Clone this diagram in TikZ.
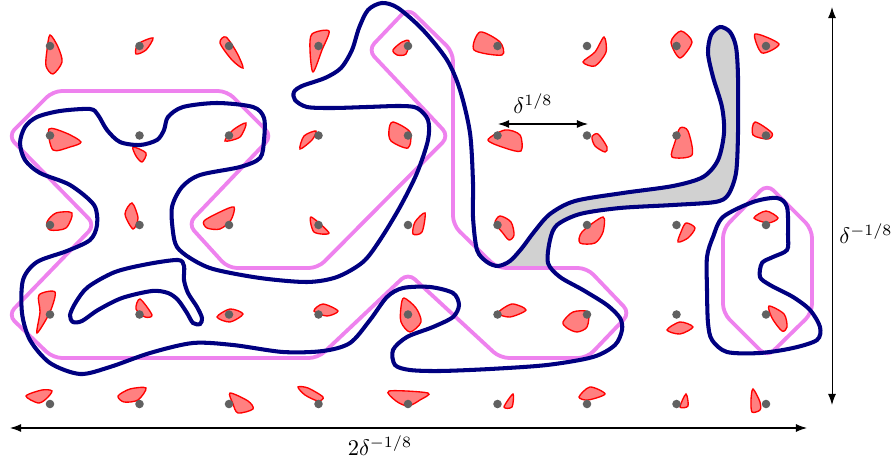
\documentclass[tikz,border=0pt]{standalone}
\usetikzlibrary{arrows.meta}
\definecolor{loopnavy}{RGB}{0,0,128}
\definecolor{hullpink}{RGB}{238,130,238}
\definecolor{blobred}{RGB}{255,128,128}
\def\bigloop{plot[smooth cycle] coordinates {(20,143) (25,127) (37,117) (60,111) (90,109) (98,115)
  (107,130) (120,142) (140,145) (157,140) (164,130) (168,117) (183,107) (217,103) (253,107)
  (264,118) (264,140) (260,158) (240,167) (200,175) (182,187) (172,207) (173,232) (177,247)
  (190,258) (213,269) (260,278) (307,282) (337,277) (363,262) (380,240) (400,207) (417,173)
  (428,140) (428,120) (417,108) (400,106) (367,107) (333,108) (307,107) (295,100) (294,92)
  (302,86) (325,78) (341,68) (352,50) (359,28) (368,10) (382,3) (398,8) (423,30) (447,60) (460,90)
  (470,133) (473,183) (473,217) (477,250) (487,262) (498,266) (510,261) (522,248) (534,232)
  (550,214) (575,201) (623,193) (673,186) (703,177) (718,160) (724,133) (722,107) (713,77)
  (708,53) (711,35) (720,27) (730,32) (736,47) (738,77) (738,133) (736,173) (728,195)
  (715,202) (673,205) (620,208) (580,214) (557,225) (550,240) (548,263) (560,277) (583,290)
  (607,305) (620,318) (622,330) (615,345) (593,357) (547,365) (490,369) (440,371) (410,370)
  (395,365) (393,350) (407,337) (433,327) (453,317) (459,305) (453,293) (430,287) (403,288)
  (387,297) (370,320) (350,343) (323,351) (283,352) (233,345) (193,343) (150,353) (110,367)
  (80,374) (50,363) (30,340) (22,313) (23,280) (37,262) (67,251) (90,240) (97,225) (94,205)
  (70,185) (40,173) (25,160)}}
\begin{document}
\begin{tikzpicture}[x=0.01564cm,y=-0.01564cm,font=\normalsize,
  blob/.style={draw=red,fill=blobred,line width=0.6pt},
  hull/.style={draw=hullpink,line width=1.7pt,rounded corners=4pt},
  loop/.style={draw=loopnavy,line width=1.8pt},
  gap/.style={fill=black!18},
  span/.style={black,line width=0.45pt,{Latex[length=5pt,width=3.6pt]}-{Latex[length=5pt,width=3.6pt]}}]
  \useasboundingbox (0,0) rectangle (891,461);
  % shaded strip of the finger
  \begin{scope}
    \clip (498,0) rectangle (760,268);
    \fill[gap] \bigloop;
  \end{scope}
  % pink hulls
  \draw[hull] (53,91) -- (227,91) -- (272,136) -- (188,224) -- (228,268) -- (318,268) -- (449,136)
    -- (368,50) -- (408,8) -- (453,52) -- (453,225) -- (497,268) -- (587,268) -- (630,313)
    -- (587,358) -- (500,358) -- (408,273) -- (318,358) -- (53,358) -- (8,315) -- (95,225)
    -- (8,136) -- cycle;
  \draw[hull] (767,184) -- (812,229) -- (812,313) -- (767,357) -- (723,313) -- (723,229) -- cycle;
  % red blobs, top row first
  \filldraw[blob] plot[smooth cycle] coordinates {(50,35) (58,47) (62,62) (53,74) (46,66) (47,50)};
  \filldraw[blob] plot[smooth cycle] coordinates {(136,54) (138,44) (153,38) (146,50)};
  \filldraw[blob] plot[smooth cycle] coordinates {(220,43) (226,37) (237,53) (243,68) (232,60)};
  \filldraw[blob] plot[smooth cycle] coordinates {(312,34) (329,31) (322,50) (313,72) (310,50)};
  \filldraw[blob] plot[smooth cycle] coordinates {(393,50) (402,42) (409,41) (406,54) (397,55)};
  \filldraw[blob] plot[smooth cycle] coordinates {(474,50) (480,32) (500,42) (502,55)};
  \filldraw[blob] plot[smooth cycle] coordinates {(604,37) (606,52) (595,66) (583,62) (595,52)};
  \filldraw[blob] plot[smooth cycle] coordinates {(671,42) (681,31) (692,42) (680,58)};
  \filldraw[blob] plot[smooth cycle] coordinates {(755,34) (779,44) (762,53)};
  \filldraw[blob] plot[smooth cycle] coordinates {(49,129) (66,133) (81,142) (70,147) (53,150)};
  \filldraw[blob] plot[smooth cycle] coordinates {(133,147) (146,153) (142,162) (136,156)};
  \filldraw[blob] plot[smooth cycle] coordinates {(225,141) (233,130) (246,123) (240,137)};
  \filldraw[blob] plot[smooth cycle] coordinates {(300,149) (304,136) (316,131) (312,140)};
  \filldraw[blob] plot[smooth cycle] coordinates {(393,122) (410,132) (408,148) (391,141) (389,130)};
  \filldraw[blob] plot[smooth cycle] coordinates {(488,140) (505,130) (520,135) (521,151) (505,148)};
  \filldraw[blob] plot[smooth cycle] coordinates {(592,137) (598,134) (607,147) (605,152) (595,146)};
  \filldraw[blob] plot[smooth cycle] coordinates {(680,128) (688,131) (692,155) (672,157) (675,142)};
  \filldraw[blob] plot[smooth cycle] coordinates {(755,122) (772,133) (768,139) (753,135)};
  \filldraw[blob] plot[smooth cycle] coordinates {(47,222) (56,213) (72,213) (66,228) (50,230)};
  \filldraw[blob] plot[smooth cycle] coordinates {(132,203) (138,218) (133,229) (125,214)};
  \filldraw[blob] plot[smooth cycle] coordinates {(204,221) (220,212) (234,207) (231,220) (220,229) (207,228)};
  \filldraw[blob] plot[smooth cycle] coordinates {(311,217) (329,233) (314,232)};
  \filldraw[blob] plot[smooth cycle] coordinates {(425,213) (422,232) (413,234) (415,222)};
  \filldraw[blob] plot[smooth cycle] coordinates {(495,223) (500,216) (511,222) (514,235) (509,240) (502,232)};
  \filldraw[blob] plot[smooth cycle] coordinates {(603,217) (603,232) (595,243) (580,243) (582,232)};
  \filldraw[blob] plot[smooth cycle] coordinates {(686,223) (695,228) (688,238) (678,242) (681,232)};
  \filldraw[blob] plot[smooth cycle] coordinates {(754,218) (766,211) (778,218) (768,223)};
  \filldraw[blob] plot[smooth cycle] coordinates {(39,295) (55,292) (50,312) (37,333) (40,312)};
  \filldraw[blob] plot[smooth cycle] coordinates {(140,299) (152,315) (145,317) (136,309)};
  \filldraw[blob] plot[smooth cycle] coordinates {(217,317) (230,309) (243,314) (230,322)};
  \filldraw[blob] plot[smooth cycle] coordinates {(314,311) (323,304) (338,311) (327,316)};
  \filldraw[blob] plot[smooth cycle] coordinates {(404,298) (416,308) (421,322) (410,332) (401,322) (401,307)};
  \filldraw[blob] plot[smooth cycle] coordinates {(498,313) (512,304) (526,310) (510,317)};
  \filldraw[blob] plot[smooth cycle] coordinates {(563,322) (573,312) (588,312) (587,327) (577,332) (567,328)};
  \filldraw[blob] plot[smooth cycle] coordinates {(667,330) (680,322) (693,327) (680,334)};
  \filldraw[blob] plot[smooth cycle] coordinates {(769,306) (784,314) (787,327) (782,331) (772,318)};
  \filldraw[blob] plot[smooth cycle] coordinates {(26,396) (42,390) (52,391) (46,399) (38,403)};
  \filldraw[blob] plot[smooth cycle] coordinates {(118,396) (130,389) (146,388) (138,400) (124,402)};
  \filldraw[blob] plot[smooth cycle] coordinates {(230,393) (248,401) (253,409) (238,413) (233,404)};
  \filldraw[blob] plot[smooth cycle] coordinates {(298,387) (308,388) (323,397) (318,401) (305,395)};
  \filldraw[blob] plot[smooth cycle] coordinates {(389,391) (428,393) (420,400) (408,406) (396,401)};
  \filldraw[blob] plot[smooth cycle] coordinates {(513,394) (512,407) (504,407)};
  \filldraw[blob] plot[smooth cycle] coordinates {(579,397) (590,387) (605,394) (588,400)};
  \filldraw[blob] plot[smooth cycle] coordinates {(686,394) (688,406) (680,407)};
  \filldraw[blob] plot[smooth cycle] coordinates {(753,389) (760,402) (760,410) (752,412) (751,400)};
  % grid points
  \foreach \i in {0,...,8}
    \foreach \j in {0,...,4}
      \fill[black!62] (50+89.5*\i,46+89.5*\j) circle (1.9pt);
  % navy loops
  \draw[loop] \bigloop;
  \draw[loop] plot[smooth cycle] coordinates {(70,315) (76,302) (88,287) (115,272) (148,264) (178,260)
    (184,266) (184,280) (188,293) (197,307) (202,318) (200,324) (193,323) (187,313) (178,300)
    (168,293) (152,291) (122,298) (98,310) (82,321) (73,322)};
  \draw[loop] plot[smooth cycle] coordinates {(713,237) (723,217) (753,202) (777,198) (787,207) (788,235)
    (787,250) (773,257) (762,263) (760,277) (770,285) (793,297) (810,310) (820,327) (817,340)
    (793,348) (760,353) (727,352) (712,340) (708,323) (707,290) (707,257)};
  % scale arrows
  \coordinate (sleft) at (498,124);
  \coordinate (sright) at (588,124);
  \coordinate (vtop) at (832,7);
  \coordinate (vbot) at (832,405);
  \coordinate (hleft) at (10,428);
  \coordinate (hright) at (807,428);
  \draw[span] (sleft) -- (sright);
  \draw[span] (vtop) -- (vbot);
  \draw[span] (hleft) -- (hright);
  \node (slabel) at (533,104) {$\delta^{1/8}$};
  \node (vlabel) at (866,234) {$\delta^{-1/8}$};
  \node (hlabel) at (380,446) {$2\delta^{-1/8}$};
\end{tikzpicture}
\end{document}
